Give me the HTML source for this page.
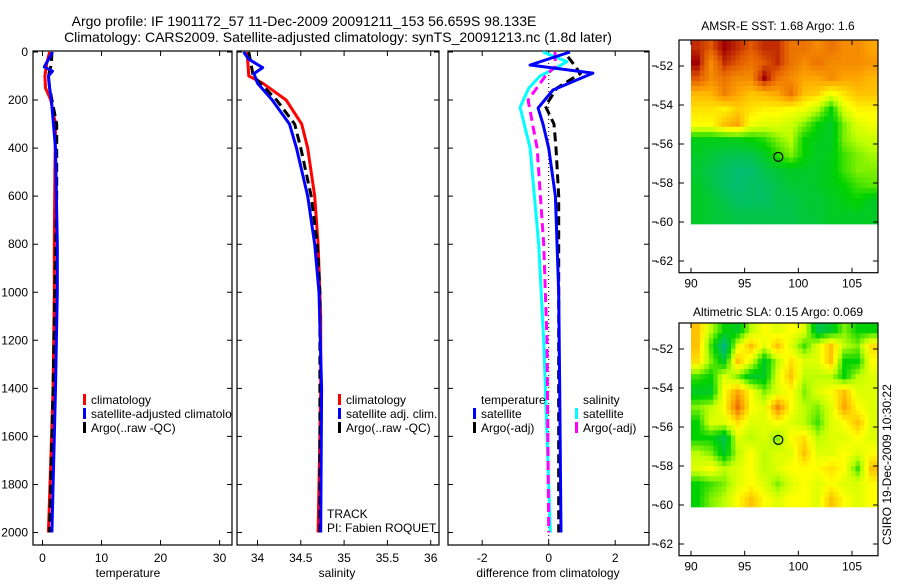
<!DOCTYPE html>
<html><head><meta charset="utf-8"><style>
body{margin:0;background:#fff;width:900px;height:580px;overflow:hidden}
svg{font-family:"Liberation Sans",sans-serif;}
</style></head><body>
<svg id="s" width="900" height="580" viewBox="0 0 900 580">
<text x="304" y="26" font-size="14" text-anchor="middle">Argo profile: IF 1901172_57 11-Dec-2009 20091211_153 56.659S 98.133E</text>
<text x="338" y="42" font-size="14" text-anchor="middle">Climatology: CARS2009. Satellite-adjusted climatology: synTS_20091213.nc (1.8d later)</text>
<text x="778" y="30" font-size="12" text-anchor="middle">AMSR-E SST: 1.68 Argo: 1.6</text>
<text x="778" y="316" font-size="12" text-anchor="middle">Altimetric SLA: 0.15 Argo: 0.069</text>
<text transform="translate(891,545) rotate(-90)" font-size="12">CSIRO 19-Dec-2009 10:30:22</text>
<text x="128" y="577" font-size="12" text-anchor="middle">temperature</text>
<text x="337" y="577" font-size="12" text-anchor="middle">salinity</text>
<text x="548" y="577" font-size="12" text-anchor="middle">difference from climatology</text>
<text x="327" y="518" font-size="12">TRACK</text>
<text x="327" y="532" font-size="12">PI: Fabien ROQUET</text>
</svg>
<script>
// ---- data ----
const depthTicks=[0,200,400,600,800,1000,1200,1400,1600,1800,2000];
const tempTicks=[0,10,20,30];
const salTicks=[34,34.5,35,35.5,36];
const salTickLabels=["34","34.5","35","35.5","36"];
const diffTicks=[-2,0,2];
const tClimD=[0,50,100,150,200,300,500,800,1000,1400,1700,2000];
const tClimV=[1.2,0.7,0.4,0.5,1.4,2.2,2.1,2.0,2.0,1.8,1.4,1.0];
const tSatD=[0,62,80,100,150,200,400,800,1000,1400,1600,2000];
const tSatV=[1.7,0.3,1.7,1.0,1.2,1.5,2.2,2.5,2.5,2.2,2.0,1.6];
const tArgoD=[0,50,100,150,300,600,1000,1400,2000];
const tArgoV=[1.6,1.5,1.0,1.2,2.4,2.4,2.1,1.8,1.2];
const sClimD=[0,100,130,200,300,400,600,800,1100,1400,1800,2000];
const sClimV=[33.88,33.9,34.06,34.33,34.51,34.58,34.66,34.70,34.73,34.73,34.71,34.70];
const sSatD=[0,30,65,90,130,200,300,400,600,800,1000,1400,2000];
const sSatV=[33.84,33.9,34.06,33.96,34.0,34.17,34.37,34.45,34.58,34.66,34.71,34.74,34.73];
const sArgoD=[0,100,200,300,400,600,800,1000,2000];
const sArgoV=[33.9,33.95,34.22,34.43,34.5,34.62,34.69,34.72,34.72];
const dTSatD=[0,54,88,158,233,300,400,600,1000,1400,2000];
const dTSatV=[0.64,-0.56,1.33,0.13,-0.32,-0.17,0,0.2,0.3,0.33,0.37];
const dTArgoD=[20,60,90,150,225,300,400,600,1000,2000];
const dTArgoV=[0.58,0.8,0.95,0.25,-0.1,0.16,0.22,0.3,0.3,0.3];
const dSSatD=[0,40,60,100,150,230,400,800,1200,2000];
const dSSatV=[-0.17,0.55,0.3,-0.26,-0.6,-0.86,-0.56,-0.3,-0.15,0.05];
const dSArgoD=[0,60,100,200,400,800,1200,2000];
const dSArgoV=[0.19,0.2,-0.1,-0.62,-0.35,-0.15,-0.05,0.0];
const lonTicks=[90,95,100,105];
const latTicks=[-52,-54,-56,-58,-60,-62];
const sstGrid=[
[0.95,0.9,1.0,0.95,0.9,0.95,0.95,0.85,0.85,0.8,0.85,0.8,0.8,0.75],
[1.0,0.8,0.95,0.9,0.85,0.9,0.95,0.85,0.8,0.85,0.8,0.8,0.8,0.78],
[0.9,0.8,0.85,0.8,0.8,1.0,0.85,0.8,0.75,0.75,0.8,0.75,0.75,0.72],
[0.72,0.72,0.82,0.75,0.7,0.72,0.75,0.85,0.7,0.68,0.58,0.65,0.7,0.7],
[0.65,0.65,0.62,0.68,0.65,0.62,0.62,0.6,0.58,0.5,0.35,0.55,0.62,0.62],
[0.6,0.6,0.7,0.75,0.58,0.55,0.55,0.52,0.45,0.35,0.3,0.45,0.55,0.58],
[0.32,0.32,0.32,0.32,0.35,0.38,0.45,0.5,0.35,0.32,0.3,0.45,0.5,0.52],
[0.3,0.28,0.25,0.25,0.25,0.3,0.38,0.45,0.35,0.3,0.32,0.4,0.45,0.48],
[0.28,0.25,0.22,0.2,0.2,0.25,0.28,0.3,0.3,0.3,0.32,0.4,0.45,0.45],
[0.3,0.26,0.22,0.2,0.22,0.22,0.25,0.28,0.28,0.3,0.32,0.35,0.4,0.42],
[0.3,0.28,0.25,0.22,0.22,0.22,0.25,0.25,0.28,0.28,0.3,0.33,0.35,0.3],
[0.3,0.28,0.27,0.25,0.25,0.25,0.25,0.25,0.27,0.28,0.3,0.3,0.3,0.3]];
const slaGrid=[
[0.7,0.5,0.35,0.3,0.5,0.6,0.55,0.6,0.55,0.25,0.3,0.45,0.35,0.35],
[0.7,0.4,0.15,0.55,0.7,0.55,0.7,0.55,0.4,0.55,0.7,0.5,0.45,0.65],
[0.65,0.45,0.3,0.7,0.55,0.3,0.5,0.65,0.55,0.55,0.7,0.35,0.35,0.6],
[0.4,0.35,0.55,0.45,0.3,0.3,0.55,0.7,0.5,0.5,0.5,0.35,0.5,0.55],
[0.3,0.3,0.6,0.75,0.6,0.45,0.55,0.6,0.45,0.55,0.6,0.7,0.55,0.55],
[0.45,0.5,0.6,0.85,0.6,0.55,0.8,0.6,0.5,0.45,0.55,0.75,0.6,0.55],
[0.35,0.55,0.55,0.65,0.55,0.55,0.6,0.55,0.5,0.4,0.55,0.6,0.7,0.55],
[0.35,0.35,0.25,0.55,0.5,0.55,0.45,0.6,0.65,0.5,0.55,0.55,0.6,0.55],
[0.5,0.45,0.3,0.5,0.6,0.5,0.55,0.55,0.7,0.55,0.55,0.6,0.55,0.6],
[0.55,0.6,0.5,0.55,0.6,0.5,0.55,0.6,0.6,0.6,0.65,0.6,0.4,0.7],
[0.35,0.4,0.45,0.55,0.6,0.55,0.45,0.55,0.6,0.55,0.6,0.55,0.55,0.6],
[0.35,0.45,0.5,0.6,0.7,0.6,0.55,0.6,0.6,0.55,0.7,0.6,0.55,0.6]];
const argoLon=98.133, argoLat=-56.659;

// ---- helpers ----
const NS="http://www.w3.org/2000/svg";
const svg=document.getElementById('s');
function mk(tag,attrs){const e=document.createElementNS(NS,tag);for(const k in attrs)e.setAttribute(k,attrs[k]);svg.appendChild(e);return e;}
const yTop=52, yBot=532.5, frameTop=51, frameBot=545;
const yD=d=>yTop+(yBot-yTop)*d/2000;
const panels=[
 {name:'temperature',l:33,r:232,x0:0,px0:42.5,k:(219.6-42.5)/30,ticks:tempTicks,labels:tempTicks.map(String)},
 {name:'salinity',l:237,r:439,x0:34,px0:257.5,k:(430.7-257.5)/2,ticks:salTicks,labels:salTickLabels},
 {name:'difference',l:448,r:649,x0:0,px0:548.7,k:33.25,ticks:diffTicks,labels:diffTicks.map(v=>v<0?'-'+Math.abs(v):String(v))}
];
panels.forEach((p,i)=>{
 p.x=v=>p.px0+(v-p.x0)*p.k;
 const f=mk('rect',{x:p.l,y:frameTop,width:p.r-p.l,height:frameBot-frameTop,fill:'none',stroke:'#000','stroke-width':1.2});
 
 
 p.ticks.forEach((t,j)=>{
  const x=p.x(t);
  const tk=mk('path',{d:`M${x} ${frameBot}v-5M${x} ${frameTop}v5`,stroke:'#000','stroke-width':1});
  
  
  const tl=mk('text',{x:x,y:562,'font-size':12,'text-anchor':'middle'});tl.textContent=p.labels[j];
  
  
 });
 depthTicks.forEach(d=>{
  const y=yD(d);
  const tk=mk('path',{d:`M${p.l} ${y}h5M${p.r} ${y}h-5`,stroke:'#000','stroke-width':1});
  
  
  if(i===0){const tl=mk('text',{x:28,y:y+4,'font-size':12,'text-anchor':'end'});tl.textContent=String(d);
   
   }
 });
});
function line(p,D,V,color,name,dash,w){
 const pts=D.map((d,i)=>p.x(V[i]).toFixed(1)+','+yD(d).toFixed(1)).join(' ');
 const a={points:pts,fill:'none',stroke:color,'stroke-width':w||3,'stroke-linejoin':'round'};
 if(dash)a['stroke-dasharray']=dash;
 const e=mk('polyline',a);
 
 
}
const [P1,P2,P3]=panels;
line(P1,tClimD,tClimV,'#ff0000','temp-climatology-line');
line(P1,tArgoD,tArgoV,'#000','temp-argo-line','9,5');
line(P1,tSatD,tSatV,'#0000ff','temp-satellite-line');
line(P2,sClimD,sClimV,'#ff0000','sal-climatology-line');
line(P2,sArgoD,sArgoV,'#000','sal-argo-line','9,5');
line(P2,sSatD,sSatV,'#0000ff','sal-satellite-line');
const z=mk('line',{x1:P3.x(0),x2:P3.x(0),y1:frameTop,y2:frameBot,stroke:'#000','stroke-width':1,'stroke-dasharray':'1,3'});


line(P3,dSSatD,dSSatV,'#00ffff','diff-sal-satellite-line');
line(P3,dSArgoD,dSArgoV,'#ff00ff','diff-sal-argo-line','9,5');
line(P3,dTArgoD,dTArgoV,'#000','diff-temp-argo-line','9,5');
line(P3,dTSatD,dTSatV,'#0000ff','diff-temp-satellite-line');

// legends
function leg(x,y,color,label,name){
 const r=mk('rect',{x:x,y:y-10,width:3,height:11,fill:color});
 
 
 if(label){const t=mk('text',{x:x+8,y:y,'font-size':12});t.textContent=label;
  
  }
}
leg(83,404,'#ff0000','climatology','legend-temp-climatology');
leg(83,418,'#0000ff','satellite-adjusted climatolo','legend-temp-satellite');
leg(83,432,'#000','Argo(..raw -QC)','legend-temp-argo');
leg(338,404,'#ff0000','climatology','legend-sal-climatology');
leg(338,418,'#0000ff','satellite adj. clim.','legend-sal-satellite');
leg(338,432,'#000','Argo(..raw -QC)','legend-sal-argo');
const th=mk('text',{x:481,y:404,'font-size':12});th.textContent='temperature';


const sh=mk('text',{x:583,y:404,'font-size':12});sh.textContent='salinity';


leg(473,418,'#0000ff','satellite','legend-diff-temp-satellite');
leg(473,432,'#000','Argo(-adj)','legend-diff-temp-argo');
leg(575,418,'#00ffff','satellite','legend-diff-sal-satellite');
leg(575,432,'#ff00ff','Argo(-adj)','legend-diff-sal-argo');

// colormap
const stops=[[0,[0,160,160]],[0.2,[0,190,110]],[0.35,[0,210,0]],[0.5,[190,255,0]],[0.6,[255,255,0]],[0.75,[255,165,0]],[0.9,[225,90,0]],[1,[160,0,0]]];
function cmap(v){for(let i=1;i<stops.length;i++){if(v<=stops[i][0]){const [a,c1]=stops[i-1],[b,c2]=stops[i];const t=(v-a)/(b-a);return 'rgb('+c1.map((c,k)=>Math.round(c+(c2[k]-c)*t)).join(',')+')';}}return 'rgb(160,0,0)';}
function sample(grid,fr,fc){
 const R=grid.length-1,C=grid[0].length-1;
 fr=Math.max(0,Math.min(R,fr));fc=Math.max(0,Math.min(C,fc));
 const r0=Math.floor(fr),c0=Math.floor(fc),r1=Math.min(R,r0+1),c1=Math.min(C,c0+1);
 const tr=fr-r0,tc=fc-c0;
 return grid[r0][c0]*(1-tr)*(1-tc)+grid[r0][c1]*(1-tr)*tc+grid[r1][c0]*tr*(1-tc)+grid[r1][c1]*tr*tc;
}
function map(name,top,grid){
 const lx=lon=>691+(lon-90)*(852-691)/15;
 const ly=lat=>top+(-52-lat)*19.5+26;
 const latTop=-50.67, latBot=-60.1, lonL=90, lonR=107.4;
 const rows=grid.length, cols=grid[0].length, up=3;
 const nr=rows*up, nc=cols*up;
 const cw=(lonR-lonL)/nc, ch=(latTop-latBot)/nr;
 for(let r=0;r<nr;r++)for(let c=0;c<nc;c++){
  const v=sample(grid,(r+0.5)/up-0.5,(c+0.5)/up-0.5);
  const x1=lx(lonL+c*cw), x2=lx(lonL+(c+1)*cw), y1=ly(latTop-r*ch), y2=ly(latTop-(r+1)*ch);
  const e=mk('rect',{x:x1.toFixed(2),y:y1.toFixed(2),width:(x2-x1+0.4).toFixed(2),height:(y2-y1+0.4).toFixed(2),fill:cmap(v)});
  
  
 }
 const f=mk('rect',{x:679,y:top,width:199,height:ly(-62.6)-top,fill:'none',stroke:'#000','stroke-width':1.2});
 
 
 lonTicks.forEach(l=>{const x=lx(l);
  const t=mk('path',{d:`M${x} ${ly(-62.6)}v-5M${x} ${top}v5`,stroke:'#000'});
  
  
  const tl=mk('text',{x:x,y:ly(-62.6)+15,'font-size':12,'text-anchor':'middle'});tl.textContent=String(l);
  
  });
 latTicks.forEach(l=>{const y=ly(l);
  const t=mk('path',{d:`M679 ${y}h5M878 ${y}h-5M652 ${y}h5`,stroke:'#000'});
  
  
  const tl=mk('text',{x:673,y:y+4,'font-size':12,'text-anchor':'end'});tl.textContent=String(l);
  
  });
 const ci=mk('circle',{cx:lx(argoLon),cy:ly(argoLat),r:4.5,fill:'none',stroke:'#000','stroke-width':1.2});
 
 
}
map('sst-map',40,sstGrid);
map('sla-map',323,slaGrid);
</script>
</body></html>
